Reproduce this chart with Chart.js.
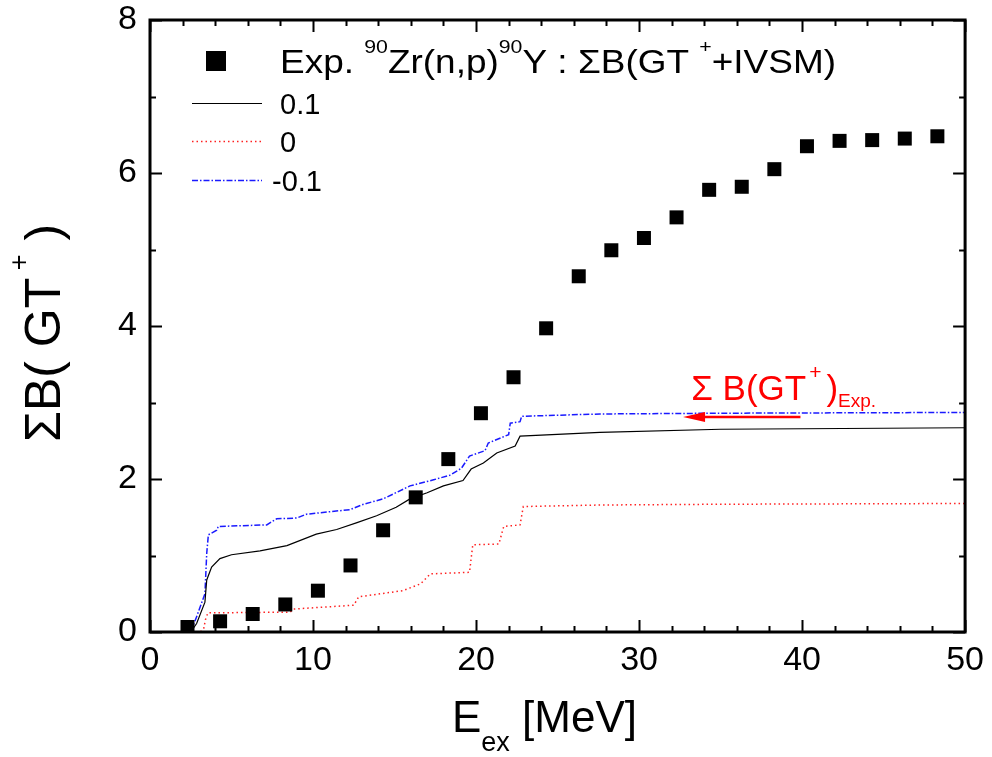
<!DOCTYPE html>
<html>
<head>
<meta charset="utf-8">
<script src="https://cdn.jsdelivr.net/npm/chart.js@4.4.0/dist/chart.umd.min.js"></script>
<style>
  html, body { margin: 0; padding: 0; background: #fff; }
  #wrap { width: 992px; height: 757px; }
</style>
</head>
<body>
<div id="wrap"><canvas id="gtSum"></canvas></div>
<script>
// measured running sum, 90Zr(n,p)90Y
const expE = [2.3, 4.3, 6.3, 8.3, 10.3, 12.3, 14.3, 16.3, 18.3, 20.3, 22.3, 24.3, 26.3, 28.3, 30.3, 32.3, 34.3, 36.3, 38.3, 40.3, 42.3, 44.3, 46.3, 48.3];
const expB = [0.065, 0.14, 0.235, 0.36, 0.54, 0.87, 1.33, 1.76, 2.26, 2.86, 3.33, 3.97, 4.65, 4.99, 5.15, 5.42, 5.78, 5.82, 6.05, 6.35, 6.42, 6.43, 6.45, 6.48];

// calculated running sums
const calcE_p01 = [2.5, 2.86, 3.37, 3.48, 3.78, 4.29, 5.0, 6.75, 8.4, 10.2, 11.45, 12.7, 13.9, 15.1, 15.95, 17.0, 18.0, 19.2, 19.7, 20.45, 21.27, 22.4, 22.7, 27.6, 35, 50];
const calcB_p01 = [0, 0.11, 0.39, 0.68, 0.85, 0.96, 1.01, 1.06, 1.13, 1.28, 1.34, 1.43, 1.52, 1.63, 1.74, 1.82, 1.91, 1.98, 2.13, 2.21, 2.34, 2.43, 2.56, 2.61, 2.65, 2.67];

const calcE_0 = [3.1, 3.3, 3.4, 3.55, 8.6, 8.8, 12.5, 12.8, 15.5, 16.6, 17.2, 19.6, 19.8, 21.4, 21.7, 22.7, 22.9, 27.6, 35, 50];
const calcB_0 = [0, 0.05, 0.16, 0.25, 0.26, 0.30, 0.35, 0.46, 0.54, 0.63, 0.76, 0.78, 1.14, 1.15, 1.38, 1.40, 1.64, 1.66, 1.67, 1.68];

const calcE_m01 = [2.5, 2.86, 3.37, 3.48, 3.58, 4.09, 4.19, 7.16, 7.77, 9.0, 9.6, 12.27, 13.1, 14.3, 15.95, 17.4, 18.4, 19.1, 19.6, 20.55, 20.75, 22.0, 22.1, 22.7, 22.8, 27.6, 35, 50];
const calcB_m01 = [0, 0.2, 0.5, 1.03, 1.27, 1.33, 1.38, 1.40, 1.48, 1.49, 1.54, 1.60, 1.67, 1.74, 1.91, 1.99, 2.05, 2.14, 2.30, 2.37, 2.47, 2.58, 2.73, 2.75, 2.82, 2.85, 2.86, 2.87];

const seriesLabels = ['0.1', '0', '-0.1'];

// axes
const xMin = 0, xMax = 50, xStep = 10, xMinor = 2;
const yMin = 0, yMax = 8, yStep = 2, yMinor = 1;

// experimental total B(GT+) marker: arrow and label position (MeV, strength)
const arrowFrom = [39.9, 2.81];
const arrowTo = [32.7, 2.81];
const noteAt = [33.2, 3.03];

const FONT = '"Liberation Sans", Arial, sans-serif';

function pairs(xs, ys) {
  return xs.map((x, i) => ({ x: x, y: ys[i] }));
}

// draws text pieces one after another, with super/subscripts shifted by dy
function drawRich(ctx, parts, x, y) {
  let cx = x;
  for (const p of parts) {
    ctx.font = p.size + 'px ' + FONT;
    cx += p.before || 0;
    ctx.fillText(p.t, cx, y + (p.dy || 0));
    cx += ctx.measureText(p.t).width + (p.after || 0);
  }
  return cx;
}

const frameTicks = {
  id: 'frameTicks',
  afterDatasetsDraw(chart) {
    const ctx = chart.ctx;
    const a = chart.chartArea;
    const xs = chart.scales.x, ys = chart.scales.y;
    ctx.save();
    ctx.strokeStyle = '#000';
    ctx.lineWidth = 3;
    ctx.strokeRect(a.left, a.top, a.right - a.left, a.bottom - a.top);

    ctx.lineWidth = 2;
    ctx.beginPath();
    for (let v = xMin; v <= xMax + 1e-9; v += xMinor) {
      const px = Math.round(xs.getPixelForValue(v)) + 0.5;
      const len = (v % xStep === 0) ? 12 : 6;
      ctx.moveTo(px, a.bottom); ctx.lineTo(px, a.bottom - len);
      ctx.moveTo(px, a.top); ctx.lineTo(px, a.top + len);
    }
    for (let v = yMin; v <= yMax + 1e-9; v += yMinor) {
      const py = Math.round(ys.getPixelForValue(v)) + 0.5;
      const len = (v % yStep === 0) ? 12 : 6;
      ctx.moveTo(a.left, py); ctx.lineTo(a.left + len, py);
      ctx.moveTo(a.right, py); ctx.lineTo(a.right - len, py);
    }
    ctx.stroke();
    ctx.restore();
  },
  afterDraw(chart) {
    const ctx = chart.ctx;
    const a = chart.chartArea;
    const xs = chart.scales.x, ys = chart.scales.y;
    ctx.save();
    ctx.textBaseline = 'alphabetic';
    ctx.textAlign = 'left';

    // legend
    ctx.fillStyle = '#000';
    ctx.fillRect(206, 51, 20, 20);
    ctx.save();
    ctx.translate(280, 73);
    ctx.scale(1.12, 1);
    drawRich(ctx, [
      { t: 'Exp. ', size: 33 },
      { t: '90', size: 19, dy: -20 },
      { t: 'Zr(n,p)', size: 33 },
      { t: '90', size: 19, dy: -20 },
      { t: 'Y : \u03A3B(GT ', size: 33 },
      { t: '+', size: 19, dy: -20 },
      { t: '+IVSM)', size: 33 }
    ], 0, 0);
    ctx.restore();

    const rows = [103, 141, 180];
    chart.data.datasets.slice(1).forEach((ds, i) => {
      ctx.strokeStyle = ds.borderColor;
      ctx.lineWidth = ds.borderWidth;
      ctx.setLineDash(ds.borderDash || []);
      ctx.beginPath();
      ctx.moveTo(192, rows[i] + 0.5);
      ctx.lineTo(262, rows[i] + 0.5);
      ctx.stroke();
      ctx.setLineDash([]);
      ctx.fillStyle = '#000';
      ctx.font = '29px ' + FONT;
      ctx.fillText(ds.label, i === 2 ? 272 : 280, rows[i] + 11);
    });

    // experimental sum arrow
    const x0 = xs.getPixelForValue(arrowFrom[0]), y0 = ys.getPixelForValue(arrowFrom[1]);
    const x1 = xs.getPixelForValue(arrowTo[0]), y1 = ys.getPixelForValue(arrowTo[1]);
    ctx.strokeStyle = '#ff0000';
    ctx.fillStyle = '#ff0000';
    ctx.lineWidth = 2.5;
    ctx.beginPath();
    ctx.moveTo(x0, y0); ctx.lineTo(x1 + 18, y1);
    ctx.stroke();
    ctx.beginPath();
    ctx.moveTo(x1, y1);
    ctx.lineTo(x1 + 22, y1 - 5);
    ctx.lineTo(x1 + 22, y1 + 5);
    ctx.closePath();
    ctx.fill();
    drawRich(ctx, [
      { t: '\u03A3 B(GT', size: 35 },
      { t: '+', size: 21, dy: -21, before: 3, after: 5 },
      { t: ')', size: 35 },
      { t: 'Exp.', size: 19, dy: 7 }
    ], xs.getPixelForValue(noteAt[0]), ys.getPixelForValue(noteAt[1]));

    // axis titles
    ctx.fillStyle = '#000';
    drawRich(ctx, [
      { t: 'E', size: 44 },
      { t: 'ex', size: 27, dy: 19 },
      { t: ' [MeV]', size: 44 }
    ], a.left + 302, 732);

    ctx.translate(60, 442);
    ctx.rotate(-Math.PI / 2);
    drawRich(ctx, [
      { t: '\u03A3B( GT', size: 50 },
      { t: ' +', size: 27, dy: -32 },
      { t: ' )', size: 50 }
    ], 0, 0);
    ctx.restore();
  }
};

const ctx = document.getElementById('gtSum').getContext('2d');
const gtChart = new Chart(ctx, {
  type: 'scatter',
  data: {
    datasets: [
      {
        label: 'Exp.',
        data: pairs(expE, expB),
        pointStyle: 'rect',
        pointRadius: 9.9,
        backgroundColor: '#000',
        borderColor: '#000',
        borderWidth: 0,
        showLine: false
      },
      {
        label: seriesLabels[0],
        data: pairs(calcE_p01, calcB_p01),
        showLine: true,
        borderColor: '#000000',
        borderWidth: 1.2,
        pointRadius: 0,
        tension: 0
      },
      {
        label: seriesLabels[1],
        data: pairs(calcE_0, calcB_0),
        showLine: true,
        borderColor: '#ff2020',
        borderWidth: 1.5,
        borderDash: [1.5, 3],
        pointRadius: 0,
        tension: 0
      },
      {
        label: seriesLabels[2],
        data: pairs(calcE_m01, calcB_m01),
        showLine: true,
        borderColor: '#1a1aff',
        borderWidth: 1.5,
        borderDash: [6, 2, 1.5, 2],
        pointRadius: 0,
        tension: 0
      }
    ]
  },
  options: {
    responsive: true,
    maintainAspectRatio: false,
    animation: false,
    layout: { padding: { top: 20, right: 26, left: 0, bottom: 0 } },
    plugins: { legend: { display: false }, tooltip: { enabled: false } },
    scales: {
      x: {
        type: 'linear',
        min: xMin, max: xMax,
        grid: { display: false, drawTicks: false },
        border: { display: false },
        ticks: { stepSize: xStep, padding: 8, color: '#000', font: { family: FONT, size: 34 } },
        afterFit(scale) { scale.height = 125; }
      },
      y: {
        min: yMin, max: yMax,
        grid: { display: false, drawTicks: false },
        border: { display: false },
        // small lineHeight keeps the label box from pushing the plot area down
        ticks: { stepSize: yStep, padding: 13, color: '#000', font: { family: FONT, size: 34, lineHeight: 0.4 } },
        afterFit(scale) { scale.width = 150; }
      }
    }
  },
  plugins: [frameTicks]
});
</script>
</body>
</html>
